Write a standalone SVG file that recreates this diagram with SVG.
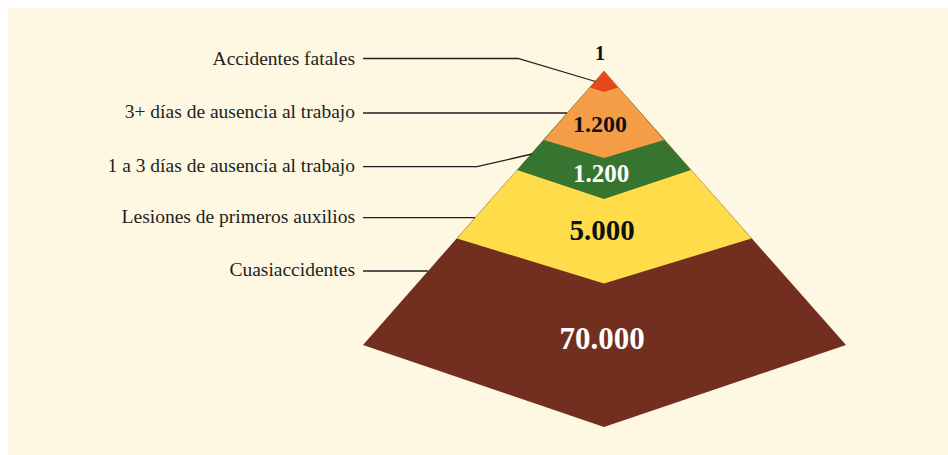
<svg xmlns="http://www.w3.org/2000/svg" width="948" height="455" viewBox="0 0 948 455">
<style>
.lbl{font-family:"Liberation Serif","Times New Roman",serif;font-size:19.5px;fill:#231f20;text-anchor:end}
.num{font-family:"Liberation Serif","Times New Roman",serif;font-weight:bold;text-anchor:middle}
.conn{fill:none;stroke:#231f20;stroke-width:1.3}
</style>
<rect x="0" y="0" width="948" height="455" fill="#ffffff"/>
<rect x="8" y="8" width="940" height="447" fill="#fef7e1"/>
<g id="level-cuasiaccidentes">
<polygon points="604,71 363,345 604,427 846,345" fill="#722f1f"/>
<text class="num" x="602" y="349" font-size="31" fill="#ffffff">70.000</text>
</g>
<g id="level-primeros-auxilios">
<polygon points="604,71 457,238.5 604,283.5 751.5,238.5" fill="#ffdd4a"/>
<text class="num" x="602" y="240" font-size="29" fill="#111111">5.000</text>
</g>
<g id="level-1a3-dias">
<polygon points="604,71 517,170 604,199 691,170" fill="#367430"/>
<text class="num" x="601" y="182" font-size="25" fill="#ffffff">1.200</text>
</g>
<g id="level-3mas-dias">
<polygon points="604,71 544,140 604,158 664,140" fill="#f59e47"/>
<text class="num" x="600" y="132" font-size="24" fill="#111111">1.200</text>
</g>
<g id="level-fatales">
<polygon points="604,71 590,87.5 604,92 618,87.5" fill="#e5471e"/>
<text class="num" x="600" y="60" font-size="20" fill="#111111">1</text>
</g>
<g id="labels">
<text class="lbl" x="355" y="65">Accidentes fatales</text>
<text class="lbl" x="355" y="118">3+ días de ausencia al trabajo</text>
<text class="lbl" x="355" y="172">1 a 3 días de ausencia al trabajo</text>
<text class="lbl" x="355" y="223">Lesiones de primeros auxilios</text>
<text class="lbl" x="355" y="276">Cuasiaccidentes</text>
</g>
<g id="connectors">
<polyline class="conn" points="363,58.5 518,58.5 595.5,81.5"/>
<polyline class="conn" points="363,113 567,113"/>
<polyline class="conn" points="363,166.7 477,166.7 532,154"/>
<polyline class="conn" points="363,217.7 475,217.7"/>
<polyline class="conn" points="363,271 428,271"/>
</g>
</svg>
